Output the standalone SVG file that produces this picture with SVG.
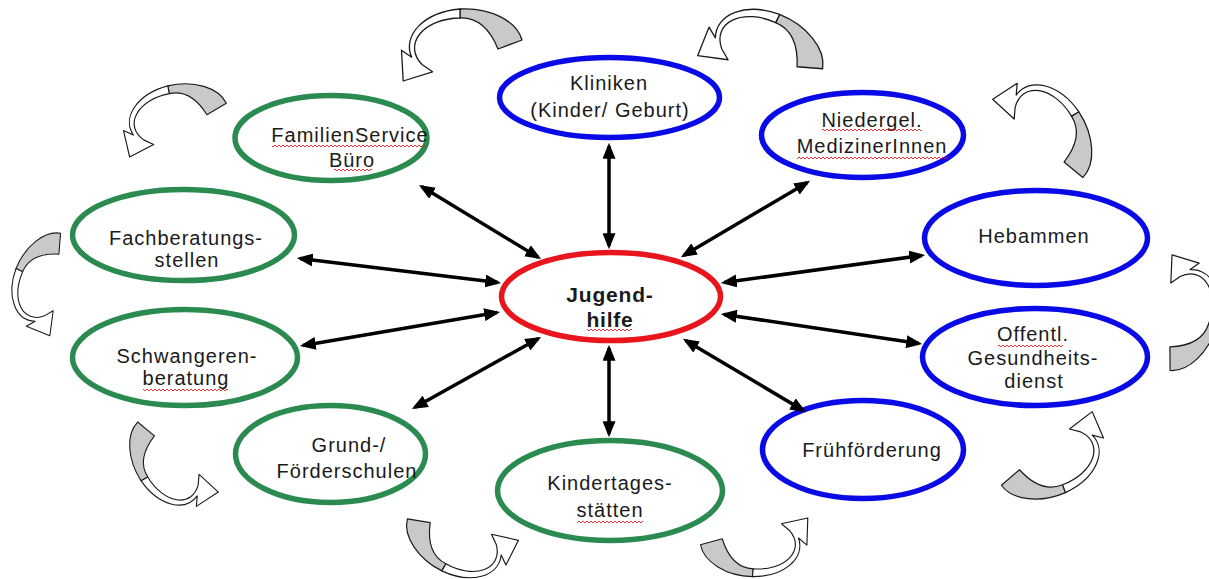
<svg xmlns="http://www.w3.org/2000/svg" width="1209" height="579" viewBox="0 0 1209 579">
<style>
.t{font-family:"Liberation Sans",Arial,sans-serif;font-size:20px;fill:#1a1a1a;text-anchor:middle;letter-spacing:1px}
.b{font-weight:bold;font-size:21px;letter-spacing:0.8px}
.eg{fill:#fff;stroke:#2a8a50;stroke-width:5.5}
.eb{fill:#fff;stroke:#0a0ae6;stroke-width:5.5}
.er{fill:#fff;stroke:#e8161c;stroke-width:5.5}
.con{stroke:#000;stroke-width:3.5;fill:none;marker-start:url(#ah);marker-end:url(#ah)}
.cg{fill:#c9c9c9;stroke:#1a1a1a;stroke-width:1.3;stroke-linejoin:round}
.cw{fill:#fff;stroke:#1a1a1a;stroke-width:1.3;stroke-linejoin:round}
.sq{fill:url(#wv)}
</style>
<defs>
<marker id="ah" viewBox="0 0 10 10" refX="8" refY="5" markerWidth="16" markerHeight="13" markerUnits="userSpaceOnUse" orient="auto-start-reverse" preserveAspectRatio="none"><path d="M0,0 L10,5 L0,10 Z" fill="#000"/></marker>
<pattern id="wv" width="4" height="4" patternUnits="userSpaceOnUse"><path d="M-1,1 L1,3 L3,1 L5,3" fill="none" stroke="#e02020" stroke-width="0.9"/></pattern>
<g id="ca">
<path class="cg" d="M33,2 L57,-7 A58 38 0 0 0 -5,-38 L-5,-29 Q20,-30 33,2 Z"/>
<path class="cw" d="M-5,-38 A58 38 0 0 0 -53.3,10.3 L-63.5,3.2 L-61.8,34 L-32.5,24.8 L-42.7,17.7 A46 30 0 0 1 -5,-29 Z"/>
</g>
</defs>
<rect width="1209" height="579" fill="#fff"/>
<g id="cycle-arrows">
<use href="#ca" transform="translate(465,47)"/>
<use href="#ca" transform="translate(768,51) rotate(25)"/>
<use href="#ca" transform="translate(1050,134) rotate(60) scale(0.95)"/>
<use href="#ca" transform="translate(1182,319) rotate(110) scale(0.92)"/>
<use href="#ca" transform="translate(1049,461) rotate(160) scale(0.93)"/>
<use href="#ca" transform="translate(751,543) rotate(185) scale(0.88)"/>
<use href="#ca" transform="translate(455,539) rotate(210) scale(0.9)"/>
<use href="#ca" transform="translate(167,461) rotate(240) scale(0.85)"/>
<use href="#ca" transform="translate(46,278) rotate(-65) scale(0.82)"/>
<use href="#ca" transform="translate(178,118) rotate(-10) scale(0.88)"/>
</g>
<g id="n-jugendhilfe">
<ellipse class="er" cx="611" cy="296.5" rx="109.5" ry="44"/>
<text class="t b"><tspan x="610" y="302">Jugend-</tspan><tspan x="610" y="327">hilfe</tspan></text>
<rect class="sq" x="587" y="328" width="45" height="4"/>
</g>
<g id="n-kliniken">
<ellipse class="eb" cx="609.5" cy="97.5" rx="110" ry="40"/>
<text class="t"><tspan x="609" y="90">Kliniken</tspan><tspan x="610" y="117">(Kinder/ Geburt)</tspan></text>
</g>
<g id="n-familienservice">
<ellipse class="eg" cx="331" cy="138" rx="96" ry="42.5"/>
<text class="t"><tspan x="350" y="142">FamilienService</tspan><tspan x="352" y="167">Büro</tspan></text>
<rect class="sq" x="272" y="144" width="154" height="4"/>
<rect class="sq" x="334" y="168" width="38" height="4"/>
</g>
<g id="n-niedergel">
<ellipse class="eb" cx="862.5" cy="135" rx="101" ry="42.5"/>
<text class="t"><tspan x="872" y="127">Niedergel.</tspan><tspan x="872" y="153">MedizinerInnen</tspan></text>
<rect class="sq" x="822" y="128" width="100" height="4"/>
<rect class="sq" x="797" y="156" width="151" height="4"/>
</g>
<g id="n-fachberatung">
<ellipse class="eg" cx="183.5" cy="235" rx="111" ry="45.5"/>
<text class="t"><tspan x="186" y="245">Fachberatungs-</tspan><tspan x="187" y="267">stellen</tspan></text>
</g>
<g id="n-hebammen">
<ellipse class="eb" cx="1036" cy="238" rx="111.5" ry="47.5"/>
<text class="t"><tspan x="1034" y="243">Hebammen</tspan></text>
</g>
<g id="n-schwangeren">
<ellipse class="eg" cx="185" cy="357.5" rx="112.5" ry="48"/>
<text class="t"><tspan x="187" y="363">Schwangeren-</tspan><tspan x="186" y="385">beratung</tspan></text>
<rect class="sq" x="143" y="388" width="85" height="4"/>
</g>
<g id="n-gesundheitsdienst">
<ellipse class="eb" cx="1035" cy="357" rx="112.5" ry="48.5"/>
<text class="t"><tspan x="1033" y="341">Offentl.</tspan><tspan x="1033" y="365">Gesundheits-</tspan><tspan x="1034" y="388">dienst</tspan></text>
<rect class="sq" x="998" y="344" width="65" height="4"/>
</g>
<g id="n-grundschulen">
<ellipse class="eg" cx="330.5" cy="454" rx="95" ry="48.5"/>
<text class="t"><tspan x="349" y="452">Grund-/</tspan><tspan x="347" y="478">Förderschulen</tspan></text>
</g>
<g id="n-kindertages">
<ellipse class="eg" cx="610" cy="490.5" rx="112.5" ry="50"/>
<text class="t"><tspan x="610" y="490">Kindertages-</tspan><tspan x="610" y="517">stätten</tspan></text>
<rect class="sq" x="577" y="520" width="66" height="4"/>
</g>
<g id="n-fruehfoerderung">
<ellipse class="eb" cx="863" cy="449.5" rx="100.5" ry="49"/>
<text class="t"><tspan x="872" y="457">Frühförderung</tspan></text>
</g>
<g id="connectors">
<line class="con" x1="609" y1="146" x2="609" y2="246"/>
<line class="con" x1="421.6" y1="186.6" x2="538.4" y2="257.4"/>
<line class="con" x1="807.4" y1="182.5" x2="683.6" y2="255.5"/>
<line class="con" x1="300" y1="258.4" x2="498" y2="282.6"/>
<line class="con" x1="724" y1="282.6" x2="922" y2="255.4"/>
<line class="con" x1="303" y1="345.5" x2="497" y2="312.5"/>
<line class="con" x1="724" y1="314.4" x2="919" y2="343.6"/>
<line class="con" x1="414.6" y1="407.5" x2="538.4" y2="338.5"/>
<line class="con" x1="609" y1="348" x2="609" y2="434"/>
<line class="con" x1="685.6" y1="340.5" x2="803.4" y2="410.5"/>
</g>
</svg>
